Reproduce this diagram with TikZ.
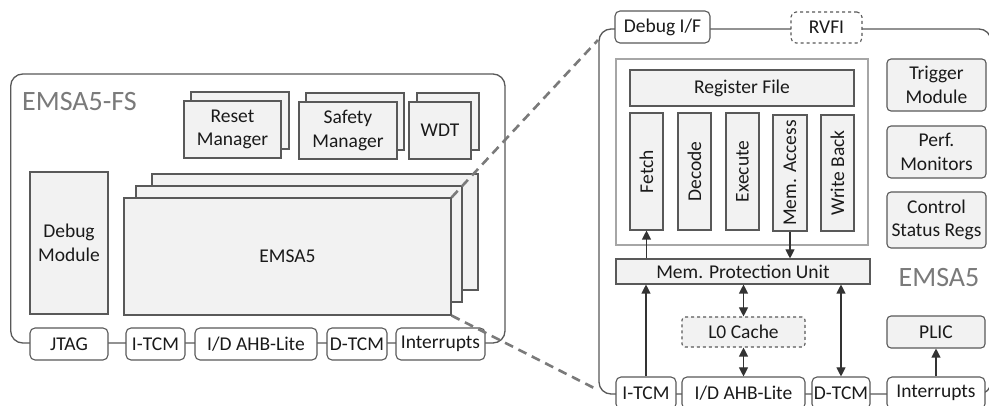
\documentclass[tikz,border=0pt]{standalone}
\usepackage{fontspec}
\setmainfont{Carlito}
\usetikzlibrary{arrows.meta}
\definecolor{bfill}{HTML}{F2F2F2}
\definecolor{bline}{HTML}{595959}
\definecolor{pline}{HTML}{A6A6A6}
\definecolor{ttl}{HTML}{7A7A7A}
\definecolor{txt}{HTML}{1A1A1A}
\definecolor{arrc}{HTML}{333333}
\newcommand\mybox[7]{\node[#1, minimum width={(#5)-(#3)}, minimum height={(#6)-(#4)}] (#2) at ({((#3)+(#5))/2},{((#4)+(#6))/2}) {#7};}
\begin{document}
\begin{tikzpicture}[x=1pt,y=-1pt,
  box/.style={draw=bline, fill=bfill, line width=1.1pt, inner sep=0pt, text=txt, font=\fontsize{19.5}{23.5}\selectfont, align=center},
  rbox/.style={box, rounded corners=4pt},
  port/.style={box, fill=white, rounded corners=5pt},
  dport/.style={port, dashed},
  outerbox/.style={draw=bline, line width=1.3pt, rounded corners=12pt, inner sep=0pt},
  pipe/.style={draw=pline, line width=1.1pt, fill=white, inner sep=0pt},
  zoomline/.style={draw=ttl, line width=2.6pt, dash pattern=on 9pt off 6pt},
  arr/.style={draw=arrc, line width=1.1pt, -{Triangle[length=9pt,width=9pt]}},
  darr/.style={draw=arrc, line width=1.1pt, {Triangle[length=9pt,width=9pt]}-{Triangle[length=9pt,width=9pt]}},
  title/.style={text=ttl, font=\fontsize{28}{30}\selectfont, inner sep=0pt},
  lbl/.style={text=txt, font=\fontsize{19.5}{23.5}\selectfont, inner sep=0pt}
]
\clip (0,0) rectangle (989,406);
\fill[white] (0,0) rectangle (989,406);

% ---------- left panel ----------
\mybox{outerbox}{lefto}{10.7}{74}{505}{343}{}
\node[title, anchor=west] (lt) at (22,102) {EMSA5-FS};

\mybox{box}{rmb}{191}{92}{289}{149}{}
\mybox{box}{rm}{184}{101}{281}{158}{Reset\\Manager}
\mybox{box}{smb}{306}{93}{404}{150}{}
\mybox{box}{sm}{299}{102}{397}{159}{Safety\\Manager}
\mybox{box}{wdtb}{417}{93}{479}{150}{}
\mybox{box}{wdt}{409}{102}{471}{159}{WDT}

\mybox{box}{dbg}{30}{172}{108}{314}{Debug\\Module}

\mybox{box}{coreb}{152}{174}{478}{290}{}
\mybox{box}{corem}{136}{186}{462}{302}{}
\mybox{box}{core}{124}{198}{451}{315}{EMSA5}

\mybox{port}{jtag}{30}{328}{108}{360}{JTAG}
\mybox{port}{litcm}{126}{328}{185}{360}{I-TCM}
\mybox{port}{lahb}{195}{328}{317}{360}{I/D AHB-Lite}
\mybox{port}{ldtcm}{327}{328}{387}{360}{D-TCM}
\mybox{port}{lint}{396}{328}{485}{360}{Interrupts}

% ---------- right panel ----------
\mybox{outerbox}{righto}{599}{29}{991}{394}{}
\coordinate (z1) at (598,40);
\coordinate (z2) at (598,390);

\mybox{port}{dbgif}{615}{11}{710}{43}{Debug I/F}
\mybox{dport}{rvfi}{791}{12}{862}{43}{RVFI}

\mybox{pipe}{pipeline}{616}{59}{868}{245}{}
\mybox{box}{regf}{630}{70}{854}{106}{Register File}
\mybox{box}{fetch}{630}{113}{663}{230}{}
\mybox{box}{decode}{678}{113}{711}{230}{}
\mybox{box}{exec}{726}{113}{759}{230}{}
\mybox{box}{mema}{773}{115}{807}{231}{}
\mybox{box}{wb}{821}{115}{854}{231}{}
\node[lbl, rotate=90] at (fetch) {Fetch};
\node[lbl, rotate=90] at (decode) {Decode};
\node[lbl, rotate=90] at (exec) {Execute};
\node[lbl, rotate=90] at (mema) {Mem. Access};
\node[lbl, rotate=90] at (wb) {Write Back};

\mybox{rbox}{trig}{887}{59}{986}{111}{Trigger\\Module}
\mybox{rbox}{perf}{887}{126}{986}{178}{Perf.\\Monitors}
\mybox{rbox}{csr}{887}{192}{986}{248}{Control\\Status Regs}

\mybox{box}{mpu}{616}{259}{870}{284}{Mem. Protection Unit}
\node[title] (rt) at (939,278) {EMSA5};

\mybox{box, dashed, rounded corners=3pt}{l0}{682}{317}{805}{347}{L0 Cache}
\mybox{rbox}{plic}{887}{316}{985}{348}{PLIC}

\mybox{port}{ritcm}{616}{377}{676}{409}{I-TCM}
\mybox{port}{rahb}{682}{377}{805}{409}{I/D AHB-Lite}
\mybox{port}{rdtcm}{812}{377}{870}{409}{D-TCM}
\mybox{port}{rint}{887}{377}{985}{409}{Interrupts}

% arrows
\draw[arr] (fetch.south |- mpu.north) -- (fetch.south);
\draw[arr] (mema.south) -- (mema.south |- mpu.north);
\draw[arr] (ritcm.north) -- (ritcm.north |- mpu.south);
\draw[darr] (l0.north) -- (l0.north |- mpu.south);
\draw[darr] (rahb.north) -- (l0.south);
\draw[darr] (rdtcm.north) -- (rdtcm.north |- mpu.south);
\draw[arr] (rint.north) -- (plic.south);

% zoom lines
\draw[zoomline] (core.north east) -- (z1);
\draw[zoomline] (core.south east) -- (z2);
\end{tikzpicture}
\end{document}
